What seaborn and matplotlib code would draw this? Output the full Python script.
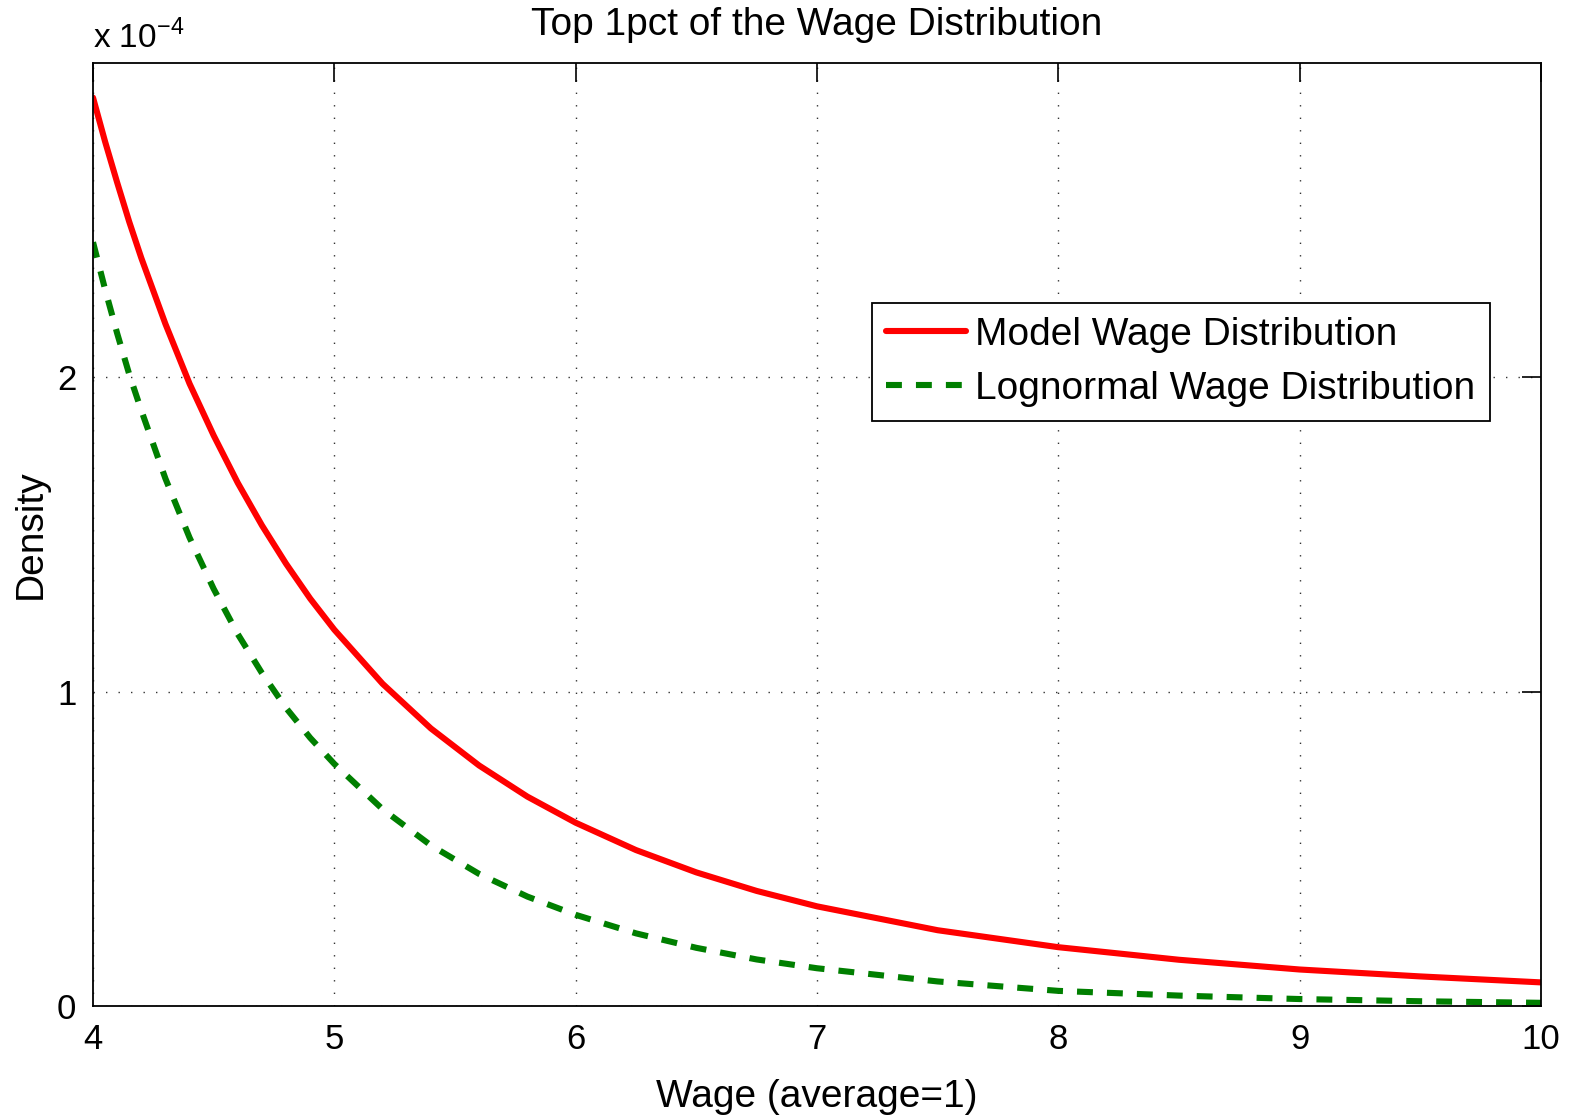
import numpy as np
import pandas as pd
import matplotlib
matplotlib.use("Agg")
import matplotlib.pyplot as plt
import seaborn as sns
from matplotlib.ticker import FuncFormatter, FixedLocator

# Wage grid (multiples of the average wage) and densities in units of 1e-4
wage = [4.0, 4.05, 4.1, 4.15, 4.2, 4.3, 4.4, 4.5, 4.6, 4.7, 4.8, 4.9, 5.0,
        5.2, 5.4, 5.6, 5.8, 6.0, 6.25, 6.5, 6.75, 7.0,
        7.5, 8.0, 8.5, 9.0, 9.5, 10.0]
model_density = [2.89, 2.75, 2.62, 2.495, 2.38, 2.17, 1.98, 1.815, 1.664, 1.529, 1.407, 1.296, 1.197,
                 1.025, 0.883, 0.765, 0.666, 0.583, 0.496, 0.425, 0.366, 0.317,
                 0.241, 0.187, 0.147, 0.116, 0.094, 0.075]
lognormal_density = [2.43, 2.28, 2.14, 2.01, 1.895, 1.678, 1.49, 1.327, 1.183, 1.059, 0.948, 0.853, 0.77,
                     0.626, 0.511, 0.42, 0.348, 0.29, 0.231, 0.185, 0.148, 0.12,
                     0.078, 0.048, 0.033, 0.022, 0.015, 0.010]

series_names = ["Model Wage Distribution", "Lognormal Wage Distribution"]
x_ticks = [4, 5, 6, 7, 8, 9, 10]
y_ticks = [0, 1, 2]
scale = 1e-4

df = pd.DataFrame({
    "wage": wage * 2,
    "density": [v * scale for v in model_density + lognormal_density],
    "series": [series_names[0]] * len(wage) + [series_names[1]] * len(wage),
})

sns.set_style("white")
plt.rcParams["font.family"] = ["Liberation Sans", "DejaVu Sans"]
plt.rcParams["mathtext.fontset"] = "custom"
plt.rcParams["mathtext.rm"] = "Liberation Sans"
plt.rcParams["text.color"] = "black"
plt.rcParams["axes.labelcolor"] = "black"

red, green = "#ff0000", "#007f00"
dash = (2.6, 2.3)

fig = plt.figure(figsize=(15.74, 11.16), dpi=100)
ax = fig.add_axes([0.0591, 0.0986, 0.9199, 0.8449])

sns.lineplot(data=df, x="wage", y="density", hue="series", style="series",
             palette=[red, green],
             dashes={series_names[0]: "", series_names[1]: dash},
             linewidth=4.4, ax=ax, legend=False, estimator=None, sort=True)

ax.set_xlim(4, 10)
ax.set_ylim(0, 3 * scale)
ax.xaxis.set_major_locator(FixedLocator(x_ticks))
ax.yaxis.set_major_locator(FixedLocator([t * scale for t in y_ticks]))
ax.yaxis.set_major_formatter(FuncFormatter(lambda v, p: f"{v / scale:g}"))

ax.grid(True, color="#333333", linestyle=(0, (1, 8)), linewidth=1.0)
ax.tick_params(direction="in", length=14, width=1.2, top=True, right=True,
               labelsize=25, pad=12, colors="black")
for s in ax.spines.values():
    s.set_color("black")
    s.set_linewidth(1.3)

ax.set_xlabel("Wage (average=1)", fontsize=28, labelpad=17)
ax.set_ylabel("Density", fontsize=28, labelpad=6)
ax.set_title("Top 1pct of the Wage Distribution", fontsize=28, pad=20)
ax.text(0.0, 1.008, r"x 10$^{-4}$", transform=ax.transAxes, fontsize=24,
        ha="left", va="bottom")

handles = [
    plt.Line2D([], [], color=red, linewidth=4.4),
    plt.Line2D([], [], color=green, linewidth=4.4, dashes=dash),
]
leg = ax.legend(handles, series_names, loc="upper left",
                bbox_to_anchor=(872 / 1574, 1 - 303 / 1116),
                bbox_transform=fig.transFigure, fontsize=28, frameon=True,
                fancybox=False, framealpha=1, edgecolor="black",
                handlelength=2.05, handletextpad=0.25, borderpad=0.36,
                labelspacing=0.46, borderaxespad=0)
leg.get_frame().set_linewidth(1.3)
for t in leg.get_texts():
    t.set_color("black")

fig.savefig("out.png", dpi=100)
